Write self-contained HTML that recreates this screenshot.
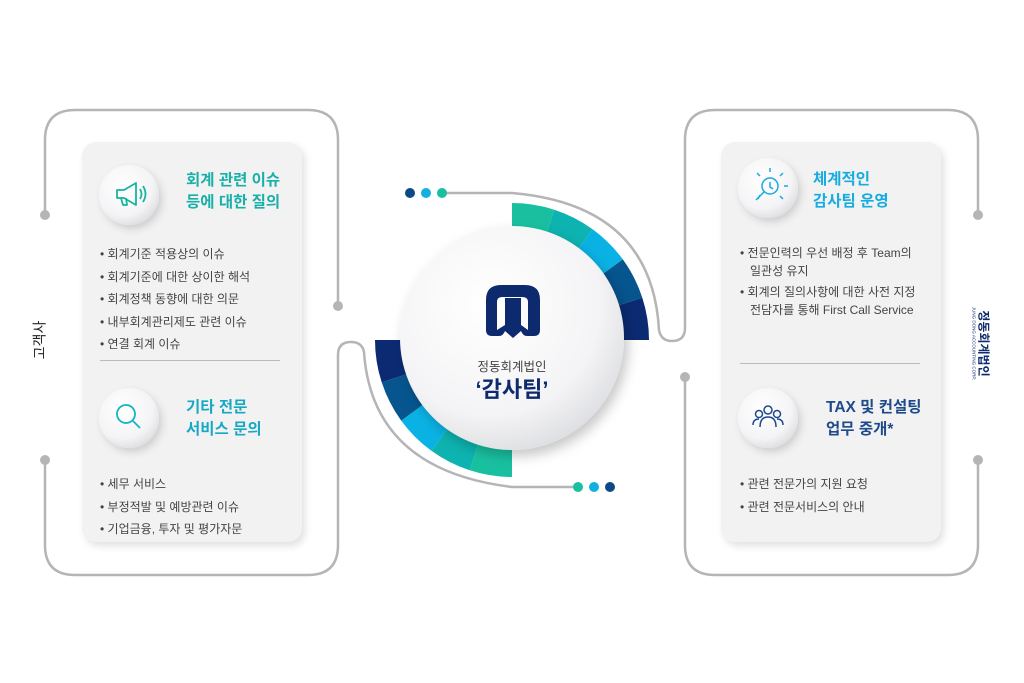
<!DOCTYPE html>
<html><head><meta charset="utf-8"><style>
body{margin:0;width:1024px;height:683px;background:#fff;position:relative;overflow:hidden;font-family:"Liberation Sans","Noto Sans CJK KR",sans-serif}
.card{position:absolute;background:#f2f2f2;border-radius:14px;box-shadow:3px 4px 8px rgba(0,0,0,.12)}
.t{position:absolute;font-weight:bold;font-size:15.5px;line-height:22px}
.l{position:absolute;font-size:12px;color:#444;line-height:18px}
.ic{position:absolute;width:60px;height:60px;border-radius:50%;background:radial-gradient(circle at 40% 35%,#fff,#eee);box-shadow:3px 4px 8px rgba(0,0,0,.15)}
.div{position:absolute;height:1px;background:#bbb}
</style></head><body>
<svg width="1024" height="683" style="position:absolute;left:0;top:0">
<g fill="none" stroke="#b5b5b5" stroke-width="2.5">
<path d="M45,215 V140 Q45,110 75,110 H308 Q338,110 338,140 V306"/>
<path d="M45,460 V545 Q45,575 75,575 H308 Q338,575 338,545 V355 Q338,342 351,342 Q362,342 364,352 Q372,470 512,487 H578"/>
<path d="M978,215 V140 Q978,110 948,110 H715 Q685,110 685,140 V328 Q685,341 672,341 Q661,341 659,330 Q652,205 512,193 H442"/>
<path d="M685,377 V545 Q685,575 715,575 H948 Q978,575 978,545 V460"/>
</g>
<g fill="#b5b5b5"><circle cx="45" cy="215" r="5"/><circle cx="338" cy="306" r="5"/><circle cx="45" cy="460" r="5"/><circle cx="978" cy="215" r="5"/><circle cx="685" cy="377" r="5"/><circle cx="978" cy="460" r="5"/></g>
<circle cx="410" cy="193" r="5" fill="#0d4a85"/><circle cx="426" cy="193" r="5" fill="#12b0e0"/><circle cx="442" cy="193" r="5" fill="#19c0a0"/>
<circle cx="578" cy="487" r="5" fill="#19c0a0"/><circle cx="594" cy="487" r="5" fill="#12b0e0"/><circle cx="610" cy="487" r="5" fill="#0d4a85"/>
<g>
<path d="M512,203 A137,137 0 0 1 554.3,209.7 L545.4,237.3 A108,108 0 0 0 512,232Z" fill="#19c0a0"/>
<path d="M554.3,209.7 A137,137 0 0 1 592.6,229.2 L575.5,252.6 A108,108 0 0 0 545.4,237.3Z" fill="#0db3b0"/>
<path d="M592.6,229.2 A137,137 0 0 1 622.8,259.4 L599.4,276.5 A108,108 0 0 0 575.5,252.6Z" fill="#0ab2e4"/>
<path d="M622.8,259.4 A137,137 0 0 1 642.3,297.7 L614.7,306.6 A108,108 0 0 0 599.4,276.5Z" fill="#06558f"/>
<path d="M642.3,297.7 A137,137 0 0 1 649,340 L620,340 A108,108 0 0 0 614.7,306.6Z" fill="#0b2a72"/>
<path d="M512,477 A137,137 0 0 1 469.7,470.3 L478.6,442.7 A108,108 0 0 0 512,448Z" fill="#19c0a0"/>
<path d="M469.7,470.3 A137,137 0 0 1 431.4,450.8 L448.5,427.4 A108,108 0 0 0 478.6,442.7Z" fill="#0db3b0"/>
<path d="M431.4,450.8 A137,137 0 0 1 401.2,420.6 L424.6,403.5 A108,108 0 0 0 448.5,427.4Z" fill="#0ab2e4"/>
<path d="M401.2,420.6 A137,137 0 0 1 381.7,382.3 L409.3,373.4 A108,108 0 0 0 424.6,403.5Z" fill="#06558f"/>
<path d="M381.7,382.3 A137,137 0 0 1 375,340 L404,340 A108,108 0 0 0 409.3,373.4Z" fill="#0b2a72"/>
</g>
<defs><radialGradient id="cg" cx="40%" cy="35%" r="70%"><stop offset="0" stop-color="#fff"/><stop offset="0.7" stop-color="#f4f4f6"/><stop offset="1" stop-color="#dcdde0"/></radialGradient>
<filter id="sh" x="-20%" y="-20%" width="140%" height="140%"><feDropShadow dx="4" dy="6" stdDeviation="6" flood-opacity="0.22"/></filter>
<filter id="s2" x="-30%" y="-30%" width="160%" height="160%"><feDropShadow dx="3" dy="4" stdDeviation="4" flood-opacity="0.15"/></filter></defs>
<circle cx="512" cy="338" r="112" fill="url(#cg)" filter="url(#sh)"/>
<path d="M486,330 V300 Q486,285 501,285 H525 Q540,285 540,300 V330 Q540,336 534,336 H527 Q523,336 521,331 L513,338 L505,331 Q503,336 499,336 H492 Q486,336 486,330Z M497,330 V302 Q497,297 502,297 H522 Q528,297 528,302 V330 L521,325 V298 H505 V325Z" fill="#0d2a6e" fill-rule="evenodd"/>
<!-- icon circles -->
<g filter="url(#s2)" fill="url(#cg)"><circle cx="129" cy="195" r="30"/><circle cx="129" cy="418" r="30"/><circle cx="768" cy="188" r="30"/><circle cx="768" cy="418" r="30"/></g>
<g fill="none" stroke="#19b4a0" stroke-width="1.8" stroke-linejoin="round">
<path d="M117,190 H124 L136,183 V205 L124,198 H117Z"/><path d="M121,198 L123,205 H127 L126,198"/><path d="M140,189 Q143,194 140,199"/><path d="M143,186 Q148,194 143,202"/>
</g>
<g fill="none" stroke="#16b4c0" stroke-width="1.8"><circle cx="126" cy="414" r="9"/><path d="M133,421 L140,428"/></g>
<g fill="none" stroke="#16ace0" stroke-width="1.5"><circle cx="770" cy="186" r="8"/><path d="M770,182 V187 L773,189 M764,192 L756,200 M760,195 L758,199 M770,172 V168 M780,176 L783,173 M784,186 H788 M760,176 L757,173 M780,196 L783,199"/></g>
<g fill="none" stroke="#1e4a8c" stroke-width="1.5"><circle cx="768" cy="410" r="4"/><circle cx="759" cy="414" r="3.5"/><circle cx="777" cy="414" r="3.5"/><path d="M760,427 Q760,417 768,417 Q776,417 776,427 M753,425 Q753,419 759,419 M783,425 Q783,419 777,419"/></g>
</svg>
<div style="position:absolute;left:462px;top:356px;width:100px;text-align:center;font-size:12.5px;color:#444">정동회계법인</div>
<div style="position:absolute;left:440px;top:372px;width:144px;text-align:center;font-size:22px;font-weight:bold;color:#0d2a6e">‘감사팀’</div>
<div style="position:absolute;left:20px;top:330px;transform:rotate(-90deg);font-size:14px;color:#222">고객사</div>
<div style="position:absolute;left:935px;top:334px;transform:rotate(90deg);width:90px;text-align:center;font-size:12px;font-weight:bold;color:#0d2a6e;line-height:13px">정동회계법인<div style="font-size:4.5px;line-height:6px;font-weight:normal">JUNG DONG ACCOUNTING CORP.</div></div>

<div class="card" style="left:82px;top:142px;width:220px;height:400px;z-index:-1"></div>
<div class="card" style="left:721px;top:142px;width:220px;height:400px;z-index:-1"></div>

<div class="t" style="left:186px;top:170px;color:#18b0a8">회계 관련 이슈<br>등에 대한 질의</div>
<div class="l" style="left:100px;top:243px;line-height:22.5px">• 회계기준 적용상의 이슈<br>• 회계기준에 대한 상이한 해석<br>• 회계정책 동향에 대한 의문<br>• 내부회계관리제도 관련 이슈<br>• 연결 회계 이슈</div>
<div class="div" style="left:100px;top:360px;width:180px"></div>
<div class="t" style="left:186px;top:397px;color:#17a9c4">기타 전문<br>서비스 문의</div>
<div class="l" style="left:100px;top:473px;line-height:22.5px">• 세무 서비스<br>• 부정적발 및 예방관련 이슈<br>• 기업금융, 투자 및 평가자문</div>

<div class="t" style="left:813px;top:169px;color:#16ace0">체계적인<br>감사팀 운영</div>
<div class="l" style="left:740px;top:245px;line-height:17.5px">• 전문인력의 우선 배정 후 Team의<br>&nbsp;&nbsp;&nbsp;일관성 유지</div>
<div class="l" style="left:740px;top:284px;line-height:17.5px">• 회계의 질의사항에 대한 사전 지정<br>&nbsp;&nbsp;&nbsp;전담자를 통해 First Call Service</div>
<div class="div" style="left:740px;top:363px;width:180px"></div>
<div class="t" style="left:826px;top:397px;color:#1e4a8c">TAX 및 컨설팅<br>업무 중개*</div>
<div class="l" style="left:740px;top:473px;line-height:22.5px">• 관련 전문가의 지원 요청<br>• 관련 전문서비스의 안내</div>
</body></html>
